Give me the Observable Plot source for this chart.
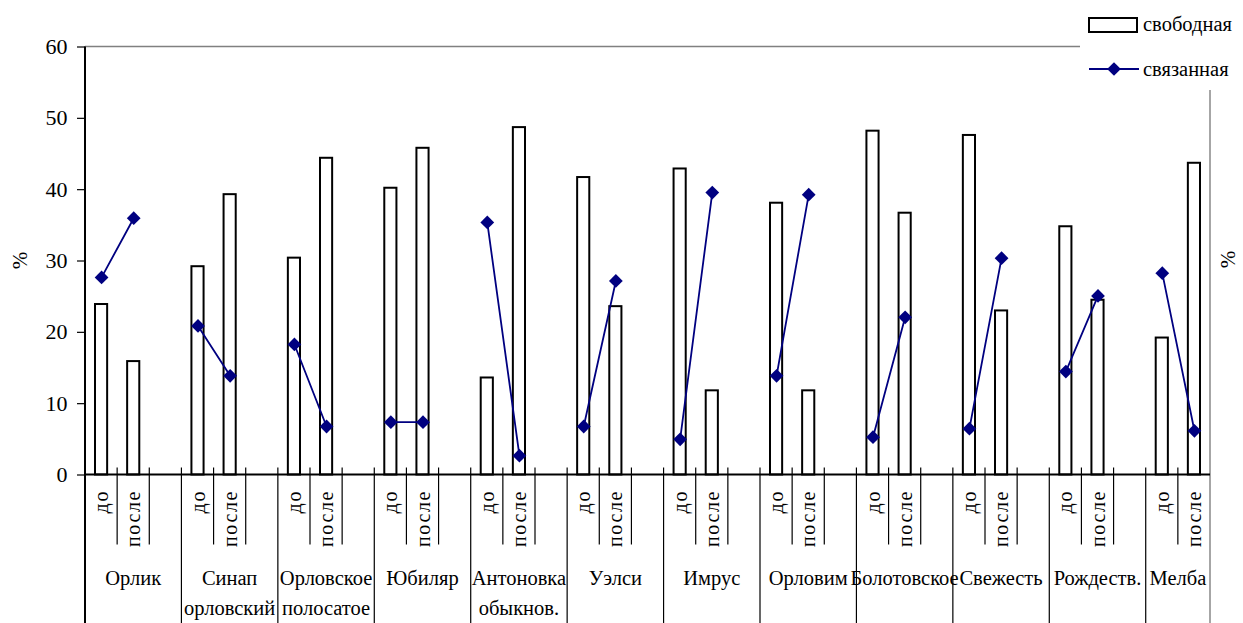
<!DOCTYPE html>
<html>
<head>
<meta charset="utf-8">
<script src="https://cdn.jsdelivr.net/npm/d3@7"></script>
<script src="https://cdn.jsdelivr.net/npm/@observablehq/plot@0.6"></script>
<style>
  html, body { margin: 0; padding: 0; background: #fff; }
  #chart { width: 1243px; height: 623px; }
  #chart svg, #chart svg text { font-family: "Liberation Serif", "Times New Roman", serif; }
</style>
</head>
<body>
<div id="chart"></div>
<script>
// Apple varieties (group labels, "\n" splits a label over two lines)
const varieties = ["Орлик", "Синап\nорловский", "Орловское\nполосатое", "Юбиляр", "Антоновка\nобыкнов.", "Уэлси", "Имрус", "Орловим", "Болотовское", "Свежесть", "Рождеств.", "Мелба"];
// Sub-categories inside each variety
const stages = ["до", "после"];
// Free fraction, % (bars)
const freeBefore = [23.9, 29.2, 30.4, 40.2, 13.6, 41.7, 42.9, 38.1, 48.2, 47.6, 34.8, 19.2];
const freeAfter  = [15.9, 39.3, 44.4, 45.8, 48.7, 23.6, 11.8, 11.8, 36.7, 23.0, 24.5, 43.7];
// Bound fraction, % (line with markers)
const boundBefore = [27.7, 20.9, 18.3, 7.4, 35.4, 6.8, 5.0, 13.9, 5.3, 6.5, 14.5, 28.3];
const boundAfter  = [36.0, 13.9, 6.8, 7.4, 2.7, 27.2, 39.6, 39.3, 22.1, 30.4, 25.1, 6.2];
// Value axis ticks
const yTicks = [0, 10, 20, 30, 40, 50, 60];
// Series names
const seriesNames = ["свободная", "связанная"];
const axisTitle = "%";

// Each variety occupies three category slots (до, после, blank); the last one has no blank slot.
const slotsPerGroup = stages.length + 1;
const nSlots = (varieties.length - 1) * slotsPerGroup + stages.length;
const rows = varieties.flatMap((v, i) => stages.map((s, j) => ({
  variety: v,
  stage: s,
  slot: i * slotsPerGroup + j,
  free: (j === 0 ? freeBefore : freeAfter)[i],
  bound: (j === 0 ? boundBefore : boundAfter)[i]
})));

const FONT = "Liberation Serif, Times New Roman, serif";
const NAVY = "#000080";
const GRAY = "#808080";

const chart = Plot.plot({
  width: 1243,
  height: 623,
  marginLeft: 85,
  marginRight: 33,
  marginTop: 46.5,
  marginBottom: 148.5,
  style: { fontSize: "22px", color: "#000", background: "#fff", overflow: "visible" },
  x: { domain: [0, nSlots], axis: null },
  y: { domain: [0, 60], axis: null },
  marks: [
    Plot.rect(rows, {
      x1: "slot", x2: d => d.slot + 1, y1: 0, y2: "free",
      insetLeft: 10, insetRight: 10,
      fill: "#fff", stroke: "#000", strokeWidth: 2
    }),
    Plot.line(rows, {
      x: d => d.slot + 0.5, y: "bound", z: "variety",
      stroke: NAVY, strokeWidth: 1.8
    }),
    Plot.dot(rows, {
      x: d => d.slot + 0.5, y: "bound",
      symbol: "diamond2", r: 6.2, fill: NAVY, stroke: "none"
    }),
    Plot.axisY({
      ticks: yTicks, tickSize: 8, tickPadding: 10, label: null,
      fontSize: 22, fontFamily: FONT, strokeWidth: 1.2
    })
  ]
});

document.getElementById("chart").appendChild(chart);

// Plot-area border, category axis with its divider lines, and the legend
const svg = d3.select(chart).attr("font-family", FONT).style("font-family", FONT);
const sx = chart.scale("x");
const sy = chart.scale("y");
const X = v => sx.apply(v);
const Y = v => sy.apply(v);
const y0 = Y(0), yTop = Y(60);
const xL = X(0), xR = X(nSlots);
const bottom = 623;
const g = svg.append("g").attr("font-family", FONT).attr("text-anchor", "start");

// top edge (gray)
g.append("line").attr("x1", xL).attr("x2", 1080).attr("y1", yTop).attr("y2", yTop)
  .attr("stroke", GRAY).attr("stroke-width", 1.4);
// right edge (gray), continues down through the category rows
g.append("line").attr("x1", xR).attr("x2", xR).attr("y1", 90).attr("y2", bottom)
  .attr("stroke", GRAY).attr("stroke-width", 1.4);
// value axis line
g.append("line").attr("x1", xL).attr("x2", xL).attr("y1", yTop).attr("y2", bottom)
  .attr("stroke", "#000").attr("stroke-width", 2);
// category axis line
g.append("line").attr("x1", xL).attr("x2", xR).attr("y1", y0).attr("y2", y0)
  .attr("stroke", "#000").attr("stroke-width", 1.8);

// slot dividers: short ones between stages, long ones between varieties
for (let b = 1; b < nSlots; b++) {
  const groupEdge = b % slotsPerGroup === 0;
  g.append("line")
    .attr("x1", X(b)).attr("x2", X(b))
    .attr("y1", y0 - 7).attr("y2", groupEdge ? bottom : y0 + 70)
    .attr("stroke", "#000").attr("stroke-width", 1.2);
}

// stage labels, vertical
g.selectAll("text.stage").data(rows).join("text")
  .attr("class", "stage")
  .attr("transform", d => `translate(${X(d.slot + 0.5)},${y0 + 15.5}) rotate(-90)`)
  .attr("text-anchor", "end")
  .attr("dy", "0.35em")
  .attr("font-family", FONT)
  .attr("font-size", 20)
  .attr("letter-spacing", 1.6)
  .text(d => d.stage);

// variety labels
varieties.forEach((v, i) => {
  const s0 = i * slotsPerGroup;
  const s1 = Math.min(s0 + slotsPerGroup, nSlots);
  const cx = (X(s0) + X(s1)) / 2;
  const t = g.append("text")
    .attr("x", cx)
    .attr("y", y0 + 110.5)
    .attr("text-anchor", "middle")
    .attr("font-family", FONT)
    .attr("font-size", 20.5);
  v.split("\n").forEach((line, k) => {
    t.append("tspan").attr("x", cx).attr("dy", k === 0 ? 0 : 30).text(line);
  });
});

// axis titles
g.append("text").attr("transform", `translate(20,${(y0 + yTop) / 2})  rotate(-90)`)
  .attr("text-anchor", "middle").attr("dy", "0.35em").attr("font-family", FONT).attr("font-size", 21).text(axisTitle);
g.append("text").attr("transform", `translate(1228,${(y0 + yTop) / 2 - 1}) rotate(-90)`)
  .attr("text-anchor", "middle").attr("dy", "0.35em").attr("font-family", FONT).attr("font-size", 21).text(axisTitle);

// legend
const lg = svg.append("g").attr("font-family", FONT).attr("text-anchor", "start");
lg.append("rect").attr("x", 1089).attr("y", 18).attr("width", 48).attr("height", 14)
  .attr("fill", "#fff").attr("stroke", "#000").attr("stroke-width", 2);
lg.append("text").attr("x", 1143).attr("y", 31).attr("font-size", 20.5).text(seriesNames[0]);
lg.append("line").attr("x1", 1089).attr("x2", 1139).attr("y1", 69).attr("y2", 69)
  .attr("stroke", NAVY).attr("stroke-width", 1.8);
lg.append("path").attr("transform", "translate(1114,69)")
  .attr("d", d3.symbol(d3.symbolDiamond2, 120)()).attr("fill", NAVY);
lg.append("text").attr("x", 1143).attr("y", 76).attr("font-size", 20.5).text(seriesNames[1]);
</script>
</body>
</html>
